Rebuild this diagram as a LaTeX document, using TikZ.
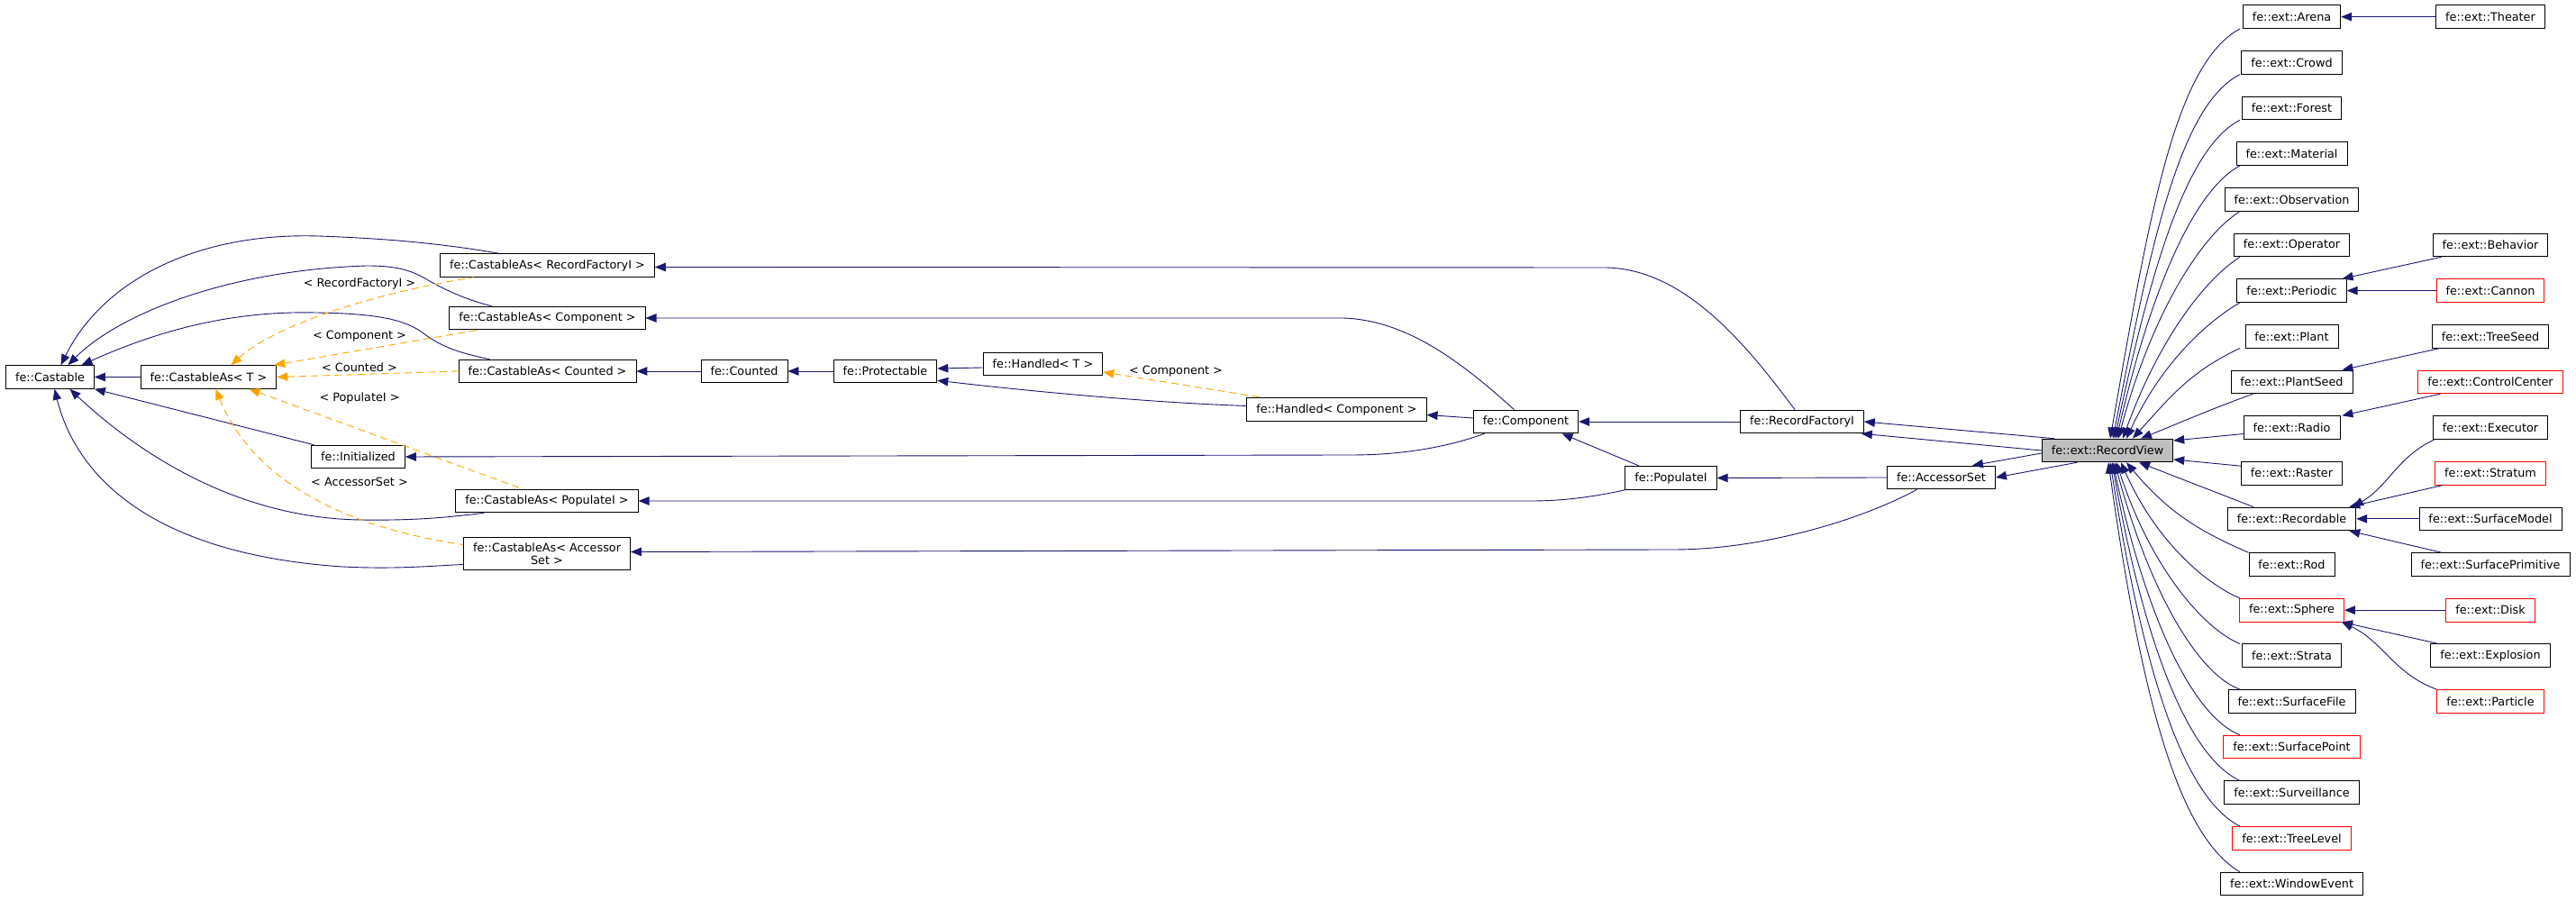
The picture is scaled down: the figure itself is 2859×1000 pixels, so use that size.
\documentclass[tikz,border=0pt]{standalone}
\usepackage{fontspec}
\setmainfont{DejaVu Sans}
\usepackage{tikz}
\usetikzlibrary{arrows.meta}
\definecolor{edgeblue}{HTML}{191970}
\definecolor{tmplorange}{HTML}{FFA500}
\definecolor{focusgray}{HTML}{BFBFBF}
\newcommand{\dxfont}{\fontsize{12.8pt}{14pt}\selectfont}
\tikzset{
	classbox/.style={draw=black, line width=0.9pt, fill=white, font=\dxfont, align=center,
			minimum height=25.7pt, inner xsep=10.5pt, inner ysep=6pt}
}
\tikzset{
	undocbox/.style={classbox, draw=red}
}
\tikzset{
	inherit/.style={draw=edgeblue, line width=0.9pt, {Triangle[length=12pt,width=9.5pt]}-}
}
\tikzset{
	tmpl/.style={draw=tmplorange, line width=0.9pt, dash pattern=on 8pt off 5pt, {Triangle[length=12pt,width=9.5pt]}-}
}
\tikzset{
	tmpllabel/.style={font=\dxfont, inner sep=1pt}
}

\begin{document}
\begin{tikzpicture}[x=1pt, y=1pt, fan/.style={out looseness=1.3, in looseness=0.45}]

			\useasboundingbox (0,0) rectangle (2859,1000);
			\coordinate (ptx) at (2486,0);

			\begin{scope}
				\node[classbox] (cast) at (55.5,581.5) {fe::Castable};
				\node[classbox] (castT) at (231.5,581.5) {fe::CastableAs< T >};
				\node[classbox] (init) at (397.5,493) {fe::Initialized};
				\node[classbox] (casRF) at (607.5,705.5) {fe::CastableAs< RecordFactoryI >};
				\node[classbox] (casComp) at (607.5,647) {fe::CastableAs< Component >};
				\node[classbox] (casCnt) at (607.5,588) {fe::CastableAs< Counted >};
				\node[classbox] (casPop) at (607,444) {fe::CastableAs< PopulateI >};
				\node[classbox] (casAcc) at (607,385.5) {fe::CastableAs< Accessor\\Set >};

				\node[tmpllabel] (lRF) at (399,685) {< RecordFactoryI >};
				\node[tmpllabel] (lComp) at (399,627) {< Component >};
				\node[tmpllabel] (lCnt) at (399,592) {< Counted >};
				\node[tmpllabel] (lPop) at (399,558) {< PopulateI >};
				\node[tmpllabel] (lAcc) at (399,465) {< AccessorSet >};
			\end{scope}

			\begin{scope}
				\node[classbox] (cnt) at (826,588) {fe::Counted};
				\node[classbox] (prot) at (982.5,588) {fe::Protectable};
				\node[classbox] (hT) at (1157.5,596) {fe::Handled< T >};
				\node[classbox] (hComp) at (1483.5,545.5) {fe::Handled< Component >};
				\node[classbox] (comp) at (1693.5,532) {fe::Component};
				\node[classbox] (rfi) at (2000,532) {fe::RecordFactoryI};
				\node[classbox] (popi) at (1854.5,469.5) {fe::PopulateI};
				\node[classbox] (accs) at (2154.5,470) {fe::AccessorSet};
				\node[classbox, fill=focusgray] (rv) at (2339,500) {fe::ext::RecordView};

				\node[tmpllabel] (lHComp) at (1305,588) {< Component >};
			\end{scope}

			\begin{scope}
				\node[classbox] (arena) at (2543.5,981.3) {fe::ext::Arena};
				\node[classbox] (crowd) at (2543.5,930.65) {fe::ext::Crowd};
				\node[classbox] (forest) at (2543.5,880) {fe::ext::Forest};
				\node[classbox] (material) at (2543.5,829.35) {fe::ext::Material};
				\node[classbox] (observ) at (2543.5,778.7) {fe::ext::Observation};
				\node[classbox] (operator) at (2543.5,728.05) {fe::ext::Operator};
				\node[classbox] (periodic) at (2543.5,677.4) {fe::ext::Periodic};
				\node[classbox] (plant) at (2543.5,626.75) {fe::ext::Plant};
				\node[classbox] (plantseed) at (2543.5,576.1) {fe::ext::PlantSeed};
				\node[classbox] (radio) at (2543.5,525.45) {fe::ext::Radio};
				\node[classbox] (raster) at (2543.5,474.8) {fe::ext::Raster};
				\node[classbox] (recordable) at (2543.5,424.15) {fe::ext::Recordable};
				\node[classbox] (rod) at (2543.5,373.5) {fe::ext::Rod};
				\node[undocbox] (sphere) at (2543.5,322.85) {fe::ext::Sphere};
				\node[classbox] (strata) at (2543.5,272.2) {fe::ext::Strata};
				\node[classbox] (surffile) at (2543.5,221.55) {fe::ext::SurfaceFile};
				\node[undocbox] (surfpoint) at (2543.5,170.9) {fe::ext::SurfacePoint};
				\node[classbox] (surveil) at (2543.5,120.25) {fe::ext::Surveillance};
				\node[undocbox] (treelevel) at (2543.5,69.6) {fe::ext::TreeLevel};
				\node[classbox] (winevent) at (2543.5,18.95) {fe::ext::WindowEvent};
			\end{scope}

			\begin{scope}
				\node[classbox] (theater) at (2764,981.3) {fe::ext::Theater};
				\node[classbox] (behavior) at (2764,728.05) {fe::ext::Behavior};
				\node[undocbox] (cannon) at (2764,677.4) {fe::ext::Cannon};
				\node[classbox] (treeseed) at (2764,626.75) {fe::ext::TreeSeed};
				\node[undocbox] (ctrlcenter) at (2764,576.1) {fe::ext::ControlCenter};
				\node[classbox] (executor) at (2764,525.45) {fe::ext::Executor};
				\node[undocbox] (stratum) at (2764,474.8) {fe::ext::Stratum};
				\node[classbox] (surfmodel) at (2764,424.15) {fe::ext::SurfaceModel};
				\node[classbox] (surfprim) at (2764,373.5) {fe::ext::SurfacePrimitive};
				\node[undocbox] (disk) at (2764,322.85) {fe::ext::Disk};
				\node[classbox] (explosion) at (2764,272.2) {fe::ext::Explosion};
				\node[undocbox] (particle) at (2764,221.55) {fe::ext::Particle};
			\end{scope}

			\begin{scope}
				\draw[inherit] (cast.east) -- (castT.west);
				\draw[inherit] ([xshift=12pt]cast.north) .. controls (115,690) and (220,742) .. (353,738) .. controls (440,735) and (500,728) .. ([xshift=-54pt]casRF.north);
				\draw[inherit] ([xshift=20pt]cast.north) .. controls (130,650) and (250,700) .. (407,705) .. controls (440,705) and (455,700) .. (470,692) .. controls (490,680) and (515,668) .. ([xshift=-62pt]casComp.north);
				\draw[inherit] ([xshift=35pt]cast.north) .. controls (180,635) and (260,655) .. (350,653) .. controls (420,652) and (450,645) .. (470,630) .. controls (490,615) and (510,608) .. ([xshift=-64pt]casCnt.north);
				\draw[inherit] (cast.south east) -- ([xshift=3pt]init.north west);
				\draw[inherit] ([xshift=22pt]cast.south) .. controls (150,500) and (260,425) .. (400,423) .. controls (460,422) and (500,426) .. ([xshift=-70pt]casPop.south);
				\draw[inherit] ([xshift=5pt]cast.south) .. controls (85,470) and (170,385) .. (380,371) .. controls (440,368) and (480,372) .. ([yshift=-12pt]casAcc.west);

				\draw[tmpl] ([xshift=25pt]castT.north) .. controls (300,635) and (400,672) .. ([xshift=-82pt]casRF.south);
				\draw[tmpl] ([xshift=-3pt]castT.north east) -- ([xshift=-77pt]casComp.south);
				\draw[tmpl] (castT.east) -- (casCnt.west);
				\draw[tmpl] ([xshift=45pt]castT.south) -- ([xshift=-27pt]casPop.north);
				\draw[tmpl] ([xshift=8pt]castT.south) .. controls (275,480) and (360,418) .. ([yshift=10pt]casAcc.west);

				\draw[inherit] (casCnt.east) -- (cnt.west);
				\draw[inherit] (cnt.east) -- (prot.west);
				\draw[inherit] ([yshift=3pt]prot.east) -- ([yshift=-4pt]hT.west);
				\draw[inherit] ([yshift=3pt]prot.south east) .. controls (1150,565) and (1280,553) .. ([yshift=4pt]hComp.west);
				\draw[tmpl] ([yshift=-9pt]hT.east) -- ([xshift=-83pt]hComp.north);

				\draw[inherit] ([yshift=-6pt]hComp.east) -- ([yshift=4pt]comp.west);
				\draw[inherit] (casComp.east) -- (1490,647) .. controls (1560,645) and (1620,600) .. ([xshift=-13pt]comp.north);
				\draw[inherit] (init.east) -- (1500,495) .. controls (1560,495) and (1610,505) .. ([xshift=-46pt]comp.south);
				\draw[inherit] ([xshift=40pt]comp.south) -- ([xshift=-35pt]popi.north);
				\draw[inherit] (comp.east) -- (rfi.west);
				\draw[inherit] (casPop.east) -- (1700,444) .. controls (1740,444) and (1775,450) .. (popi.south west);
				\draw[inherit] ([yshift=-2pt]casRF.east) -- (1780,703) .. controls (1870,703) and (1940,615) .. ([xshift=-8pt]rfi.north);
				\draw[inherit] (popi.east) -- (accs.west);
				\draw[inherit] ([yshift=2pt]casAcc.east) -- (1857,390) .. controls (1960,390) and (2070,425) .. ([xshift=-27pt]accs.south);

				\draw[inherit] (rfi.east) -- ([xshift=-59pt]rv.north);
				\draw[inherit] ([xshift=-3pt]rfi.south east) -- (rv.west);
				\draw[inherit] ([xshift=-26pt]accs.north east) -- ([yshift=-3pt]rv.west);
				\draw[inherit] (accs.east) -- ([xshift=-34pt]rv.south);
			\end{scope}

			\begin{scope}
				\draw[inherit] ([xshift=3pt]rv.north) to[out=80, in=208, fan] (arena.south west -| ptx);
				\draw[inherit] ([xshift=6pt]rv.north) to[out=79, in=207, fan] (crowd.south west -| ptx);
				\draw[inherit] ([xshift=8pt]rv.north) to[out=78, in=207, fan] (forest.south west -| ptx);
				\draw[inherit] ([xshift=10pt]rv.north) to[out=77, in=208, fan] (material.south west -| ptx);
				\draw[inherit] ([xshift=12pt]rv.north) to[out=75, in=212, fan] (observ.south west -| ptx);
				\draw[inherit] ([xshift=17pt]rv.north) to[out=70, in=212, fan] (operator.south west -| ptx);
				\draw[inherit] ([xshift=21pt]rv.north) to[out=65, in=210, fan] (periodic.south west -| ptx);
				\draw[inherit] ([xshift=28pt]rv.north) to[out=48, in=205] (plant.south west -| ptx);
				\draw[inherit] ([xshift=37pt]rv.north) to[out=22, in=200] ([xshift=25pt]plantseed.south west);
				\draw[inherit] ([yshift=11pt]rv.east) -- ([yshift=-7pt]radio.west);
				\draw[inherit] ([yshift=-10pt]rv.east) -- ([yshift=8pt]raster.west);
				\draw[inherit] ([xshift=35pt]rv.south) -- ([xshift=29pt]recordable.north west);
				\draw[inherit] ([xshift=21pt]rv.south) to[out=-50, in=157] (rod.north west);
				\draw[inherit] ([xshift=15pt]rv.south) to[out=-66, in=158, fan] (sphere.north west -| ptx);
				\draw[inherit] ([xshift=10pt]rv.south) to[out=-72, in=158, fan] (strata.north west -| ptx);
				\draw[inherit] ([xshift=8pt]rv.south) to[out=-75, in=160, fan] (surffile.north west -| ptx);
				\draw[inherit] ([xshift=6pt]rv.south) to[out=-78, in=158, fan] (surfpoint.north west -| ptx);
				\draw[inherit] ([xshift=5pt]rv.south) to[out=-80, in=155, fan] (surveil.north west -| ptx);
				\draw[inherit] ([xshift=3pt]rv.south) to[out=-81, in=153, fan] (treelevel.north west -| ptx);
				\draw[inherit] ([xshift=1pt]rv.south) to[out=-82, in=150, fan] (winevent.north west -| ptx);
			\end{scope}

			\begin{scope}
				\draw[inherit] (arena.east) -- (theater.west);
				\draw[inherit] ([xshift=-5pt]periodic.north east) -- ([xshift=10pt]behavior.south west);
				\draw[inherit] (periodic.east) -- (cannon.west);
				\draw[inherit] ([xshift=-12pt]plantseed.north east) -- ([xshift=9pt]treeseed.south west);
				\draw[inherit] ([xshift=2pt]radio.north east) -- ([xshift=25pt]ctrlcenter.south west);
				\draw[inherit] ([xshift=-4pt]recordable.north east) to[out=30, in=205] ([xshift=2pt]executor.south west);
				\draw[inherit] ([xshift=-8pt]recordable.north east) -- ([xshift=9pt]stratum.south west);
				\draw[inherit] (recordable.east) -- (surfmodel.west);
				\draw[inherit] ([xshift=-8pt]recordable.south east) -- ([xshift=34pt]surfprim.north west);
				\draw[inherit] (sphere.east) -- (disk.west);
				\draw[inherit] ([xshift=-3pt]sphere.south east) -- ([xshift=9pt]explosion.north west);
				\draw[inherit] ([xshift=-3pt]sphere.south east) to[out=-25, in=160] (particle.north west);
			\end{scope}

		\end{tikzpicture}
\end{document}
